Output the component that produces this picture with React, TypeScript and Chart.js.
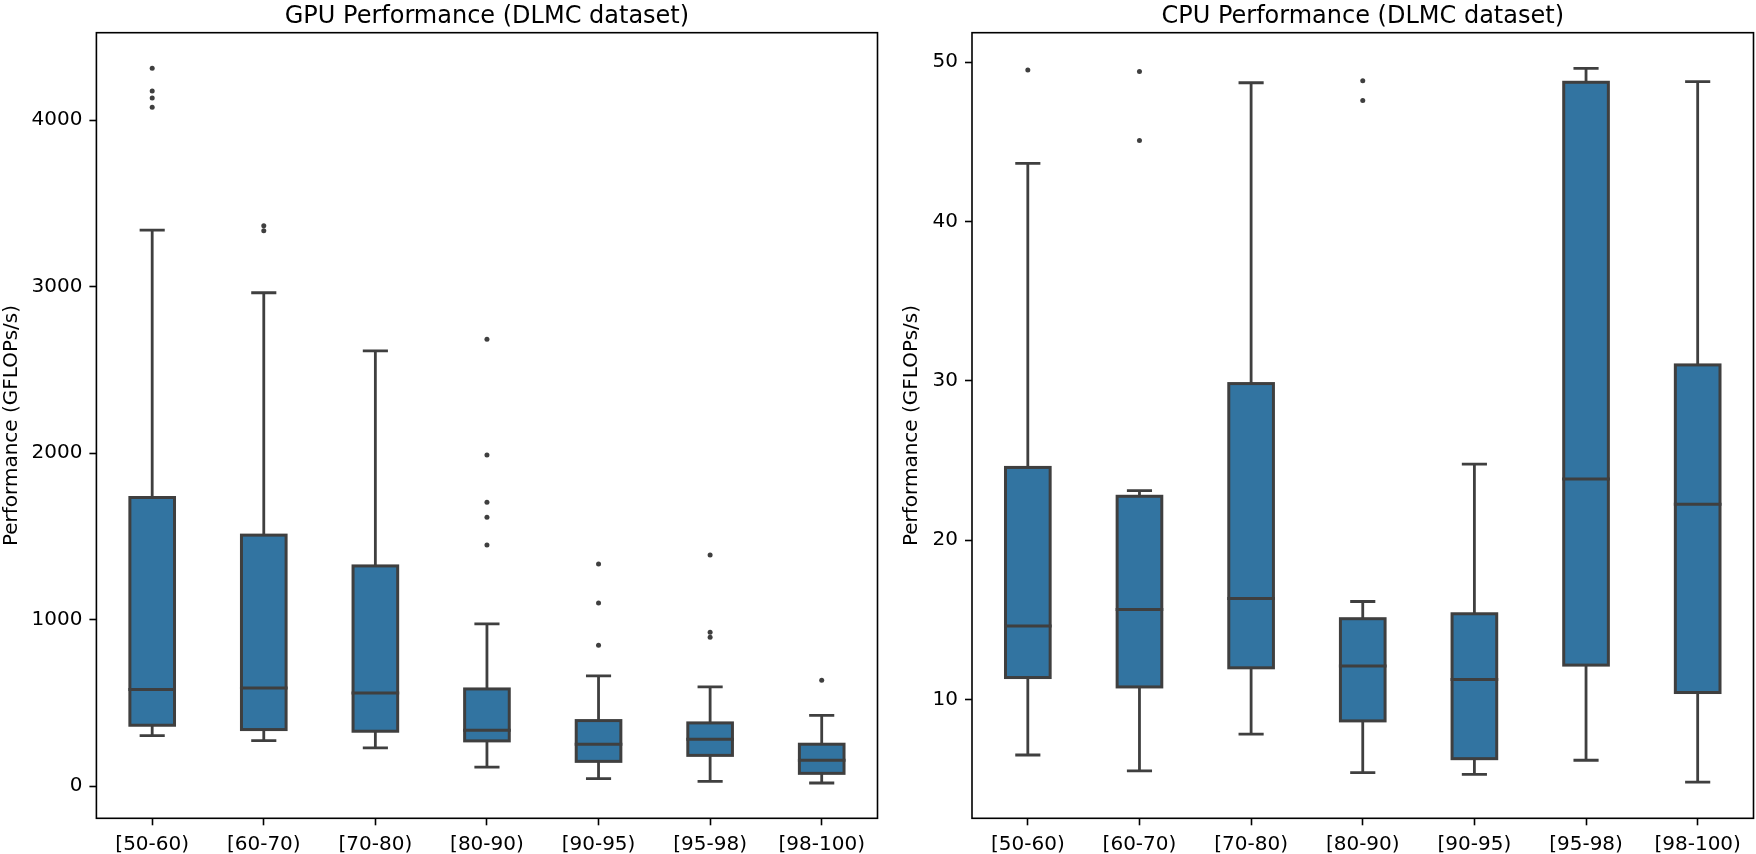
import React, { useEffect, useRef } from 'react';
import { Chart, registerables } from 'chart.js';

Chart.register(...registerables);

const categories = ['[50-60)', '[60-70)', '[70-80)', '[80-90)', '[90-95)', '[95-98)', '[98-100)'];

// GPU panel (GFLOPs/s)
const gpuWhiskerLow = [303, 273, 229, 114, 44, 28, 18];
const gpuQ1 = [365, 339, 329, 271, 148, 184, 76];
const gpuMedian = [579, 589, 559, 335, 251, 281, 154];
const gpuQ3 = [1733, 1507, 1322, 583, 393, 379, 251];
const gpuWhiskerHigh = [3339, 2963, 2614, 974, 661, 595, 424];
const gpuOutliers = [
  [4311, 4175, 4133, 4077],
  [3365, 3335],
  [],
  [2684, 1989, 1705, 1615, 1448],
  [1334, 1100, 846],
  [1388, 924, 894],
  [635],
];
const gpuTicks = [0, 1000, 2000, 3000, 4000];
const gpuRange = [-194, 4525];

// CPU panel (GFLOPs/s)
const cpuWhiskerLow = [6.53, 5.53, 7.84, 5.43, 5.32, 6.2, 4.83];
const cpuQ1 = [11.39, 10.8, 12.0, 8.67, 6.3, 12.17, 10.45];
const cpuMedian = [14.62, 15.66, 16.35, 12.12, 11.26, 23.84, 22.26];
const cpuQ3 = [24.57, 22.76, 29.83, 15.08, 15.39, 48.73, 31.0];
const cpuWhiskerHigh = [43.64, 23.11, 48.7, 16.16, 24.78, 49.6, 48.77];
const cpuOutliers = [[49.5], [49.4, 45.08], [], [48.83, 47.58], [], [], []];
const cpuTicks = [10, 20, 30, 40, 50];
const cpuRange = [2.56, 51.84];

const FONT = 'DejaVu Sans';
const BOX_COLOR = '#3274a1';
const LINE_COLOR = '#3f3f3f';

type Stats = {
  low: number[];
  q1: number[];
  med: number[];
  q3: number[];
  high: number[];
  outliers: number[][];
};

function makeBoxPlugin(stats: Stats) {
  return {
    id: 'boxDecor',
    afterDatasetsDraw(chart: any) {
      const { ctx } = chart;
      const y = chart.scales.y;
      const meta = chart.getDatasetMeta(0);
      const py = (v: number) => y.getPixelForValue(v);
      ctx.save();
      ctx.strokeStyle = LINE_COLOR;
      meta.data.forEach((bar: any, i: number) => {
        const x = bar.x;
        const hw = bar.width / 2;
        const cap = hw / 2;
        // whiskers
        ctx.lineWidth = 2.8;
        ctx.lineCap = 'butt';
        ctx.beginPath();
        ctx.moveTo(x, py(stats.q3[i]));
        ctx.lineTo(x, py(stats.high[i]));
        ctx.moveTo(x, py(stats.q1[i]));
        ctx.lineTo(x, py(stats.low[i]));
        ctx.stroke();
        // caps
        ctx.lineCap = 'square';
        ctx.beginPath();
        ctx.moveTo(x - cap, py(stats.high[i]));
        ctx.lineTo(x + cap, py(stats.high[i]));
        ctx.moveTo(x - cap, py(stats.low[i]));
        ctx.lineTo(x + cap, py(stats.low[i]));
        ctx.stroke();
        // box outline
        ctx.lineWidth = 3;
        ctx.lineJoin = 'miter';
        const top = py(stats.q3[i]);
        const bot = py(stats.q1[i]);
        ctx.strokeRect(x - hw, top, hw * 2, bot - top);
        // median
        ctx.lineCap = 'butt';
        ctx.beginPath();
        ctx.moveTo(x - hw - 1.5, py(stats.med[i]));
        ctx.lineTo(x + hw + 1.5, py(stats.med[i]));
        ctx.stroke();
      });
      ctx.restore();
    },
    afterDraw(chart: any) {
      const { ctx, chartArea } = chart;
      ctx.save();
      ctx.strokeStyle = '#000';
      ctx.lineWidth = 1.6;
      ctx.strokeRect(chartArea.left, chartArea.top, chartArea.right - chartArea.left, chartArea.bottom - chartArea.top);
      ctx.restore();
    },
  };
}

type PanelProps = {
  left: number;
  width: number;
  yWidth: number;
  yTitlePad: number;
  padRight: number;
  title: string;
  stats: Stats;
  ticks: number[];
  range: number[];
};

function Panel(props: PanelProps) {
  const ref = useRef<HTMLCanvasElement | null>(null);
  useEffect(() => {
    if (!ref.current) return;
    const { stats } = props;
    const outlierPoints: { x: string; y: number }[] = [];
    stats.outliers.forEach((arr, i) => arr.forEach((v) => outlierPoints.push({ x: categories[i], y: v })));
    const chart = new Chart(ref.current, {
      type: 'bar',
      data: {
        labels: categories,
        datasets: [
          {
            type: 'bar',
            data: categories.map((_, i) => [stats.q1[i], stats.q3[i]]) as any,
            backgroundColor: BOX_COLOR,
            borderWidth: 0,
            barPercentage: 0.4,
            categoryPercentage: 1,
            grouped: false,
          } as any,
          {
            type: 'line',
            data: outlierPoints as any,
            showLine: false,
            pointRadius: 2.5,
            pointBackgroundColor: LINE_COLOR,
            pointBorderWidth: 0,
            pointHoverRadius: 0,
          } as any,
        ],
      },
      options: {
        animation: false,
        responsive: false,
        events: [],
        layout: { padding: { left: 0, right: props.padRight, top: 0, bottom: 0 } },
        plugins: {
          legend: { display: false },
          tooltip: { enabled: false },
          title: {
            display: true,
            text: props.title,
            color: '#000',
            font: { family: FONT, size: 24, weight: 'normal', lineHeight: 1 },
            padding: { top: 4.5, bottom: 4.2 },
            fullSize: false,
          } as any,
        },
        scales: {
          x: {
            type: 'category',
            offset: true,
            border: { display: false },
            grid: {
              offset: false,
              drawOnChartArea: false,
              drawTicks: true,
              tickLength: 7,
              tickColor: '#000',
              tickWidth: 1.6,
            },
            ticks: {
              color: '#000',
              font: { family: FONT, size: 20 },
              padding: 7,
              autoSkip: false,
              maxRotation: 0,
              minRotation: 0,
            },
            afterFit: (s: any) => {
              s.height = 35.7;
            },
          },
          y: {
            type: 'linear',
            min: props.range[0],
            max: props.range[1],
            border: { display: false },
            grid: {
              drawOnChartArea: false,
              drawTicks: true,
              tickLength: 7,
              tickColor: '#000',
              tickWidth: 1.6,
            },
            ticks: {
              color: '#000',
              font: { family: FONT, size: 20 },
              padding: 7,
              callback: (v: any) => String(v),
            },
            afterBuildTicks: (s: any) => {
              s.ticks = props.ticks.map((v) => ({ value: v }));
            },
            afterFit: (s: any) => {
              s.width = props.yWidth;
            },
            title: {
              display: true,
              text: 'Performance (GFLOPs/s)',
              color: '#000',
              font: { family: FONT, size: 20, lineHeight: 1.2 },
              padding: { top: props.yTitlePad, bottom: 0 },
            },
          } as any,
        },
      } as any,
      plugins: [makeBoxPlugin(stats)],
    });
    return () => chart.destroy();
  }, []);
  return (
    <canvas
      ref={ref}
      width={props.width}
      height={854}
      style={{ position: 'absolute', left: props.left, top: 0, width: props.width, height: 854 }}
    />
  );
}

export default function App() {
  const gpuStats: Stats = {
    low: gpuWhiskerLow,
    q1: gpuQ1,
    med: gpuMedian,
    q3: gpuQ3,
    high: gpuWhiskerHigh,
    outliers: gpuOutliers,
  };
  const cpuStats: Stats = {
    low: cpuWhiskerLow,
    q1: cpuQ1,
    med: cpuMedian,
    q3: cpuQ3,
    high: cpuWhiskerHigh,
    outliers: cpuOutliers,
  };
  return (
    <div style={{ position: 'absolute', left: 0, top: 0, width: 1756, height: 854, background: '#fff' }}>
      <Panel
        left={0}
        width={880}
        yWidth={96.4}
        yTitlePad={0}
        padRight={0.7}
        title="GPU Performance (DLMC dataset)"
        stats={gpuStats}
        ticks={gpuTicks}
        range={gpuRange}
      />
      <Panel
        left={880}
        width={876}
        yWidth={92}
        yTitlePad={20}
        padRight={1}
        title="CPU Performance (DLMC dataset)"
        stats={cpuStats}
        ticks={cpuTicks}
        range={cpuRange}
      />
    </div>
  );
}
